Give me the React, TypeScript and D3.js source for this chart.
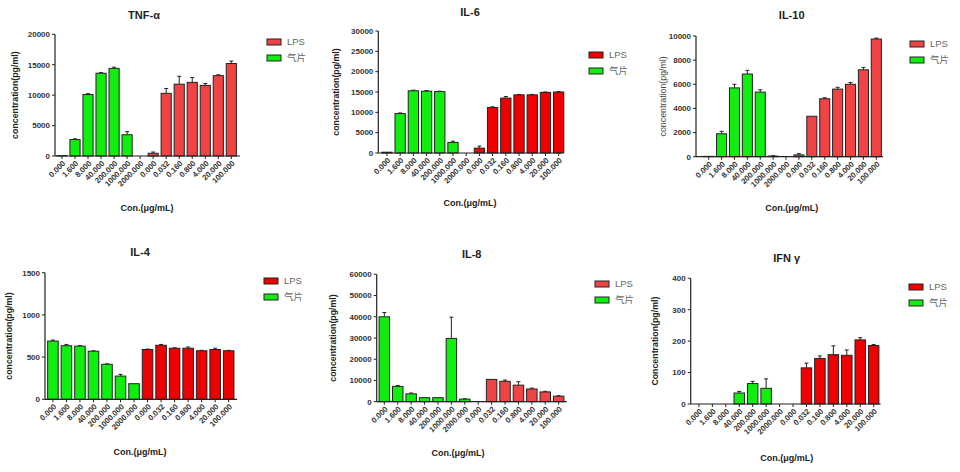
import React from "react";
import * as d3 from "d3";

// ---------- data ----------
const greenCats = ["0.000", "1.600", "8.000", "40.000", "200.000", "1000.000", "2000.000"];
const redCats = ["0.000", "0.032", "0.160", "0.800", "4.000", "20.000", "100.000"];
const seriesNames = ["LPS", "气片"];

const tnfGreen = [60, 2700, 10100, 13600, 14400, 3500, 0];
const tnfGreenErr = [0, 120, 150, 100, 200, 500, 0];
const tnfRed = [450, 10300, 11800, 12100, 11600, 13200, 15200];
const tnfRedErr = [200, 800, 1300, 800, 300, 150, 400];
const tnfTicks = [0, 5000, 10000, 15000, 20000];

const il6Green = [200, 9700, 15300, 15200, 15100, 2600, 0];
const il6GreenErr = [0, 150, 150, 150, 100, 300, 0];
const il6Red = [1200, 11200, 13500, 14300, 14300, 14900, 15000];
const il6RedErr = [500, 150, 400, 100, 100, 100, 100];
const il6Ticks = [0, 5000, 10000, 15000, 20000, 25000, 30000];

const il10Green = [30, 1900, 5700, 6850, 5350, 50, 0];
const il10GreenErr = [0, 200, 300, 300, 200, 30, 0];
const il10Red = [150, 3350, 4800, 5600, 6000, 7200, 9750];
const il10RedErr = [100, 0, 80, 150, 150, 200, 80];
const il10Ticks = [0, 2000, 4000, 6000, 8000, 10000];

const il4Green = [690, 635, 630, 570, 415, 275, 185];
const il4GreenErr = [12, 15, 5, 5, 5, 20, 0];
const il4Red = [590, 640, 605, 605, 575, 590, 575];
const il4RedErr = [5, 10, 5, 15, 5, 15, 5];
const il4Ticks = [0, 500, 1000, 1500];

const il8Green = [40000, 7200, 3700, 1900, 1900, 29800, 1200];
const il8GreenErr = [2000, 400, 400, 0, 0, 10000, 200];
const il8Red = [0, 10500, 9600, 7800, 6000, 4600, 2600];
const il8RedErr = [0, 0, 600, 1600, 400, 300, 200];
const il8Ticks = [0, 10000, 20000, 30000, 40000, 50000, 60000];

const ifnGreen = [0, 0, 0, 35, 65, 50, 0];
const ifnGreenErr = [0, 0, 0, 5, 7, 30, 0];
const ifnRed = [0, 115, 145, 157, 155, 204, 186];
const ifnRedErr = [0, 15, 8, 28, 17, 7, 3];
const ifnTicks = [0, 100, 200, 300, 400];

// ---------- layout ----------
const GREEN = "#10ee10";
const RED_LIGHT = "#f04444";
const RED_PURE = "#ee0000";
const FONT = "Liberation Sans, Arial, sans-serif";

type Panel = {
  title: string;
  yTitle: string;
  yTitleBold: boolean;
  green: number[]; greenErr: number[];
  red: number[]; redErr: number[];
  ticks: number[];
  red_color: string;
  ax: number; axR: number; yTop: number; yBot: number; c0: number; c13: number;
  titleX: number; titleY: number;
  yTitleX: number;
  xTitleX: number; xTitleY: number;
  legX: number; legY: number;
};

const panels: Panel[] = [
  { title: "TNF-α", yTitle: "concentration(pg/ml)", yTitleBold: true,
    green: tnfGreen, greenErr: tnfGreenErr, red: tnfRed, redErr: tnfRedErr, ticks: tnfTicks,
    red_color: RED_LIGHT, ax: 55, axR: 240, yTop: 34.3, yBot: 156, c0: 63.3, c13: 230,
    titleX: 144, titleY: 19, yTitleX: 18, xTitleX: 147, xTitleY: 211, legX: 267, legY: 39 },
  { title: "IL-6", yTitle: "concentration(pg/ml)", yTitleBold: true,
    green: il6Green, greenErr: il6GreenErr, red: il6Red, redErr: il6RedErr, ticks: il6Ticks,
    red_color: RED_PURE, ax: 378.3, axR: 562, yTop: 31, yBot: 153, c0: 388.3, c13: 557.3,
    titleX: 470, titleY: 16, yTitleX: 339, xTitleX: 470, xTitleY: 206, legX: 589, legY: 52 },
  { title: "IL-10", yTitle: "concentration(pg/ml)", yTitleBold: false,
    green: il10Green, greenErr: il10GreenErr, red: il10Red, redErr: il10RedErr, ticks: il10Ticks,
    red_color: RED_LIGHT, ax: 696, axR: 883, yTop: 36, yBot: 156.7, c0: 710, c13: 875,
    titleX: 791.7, titleY: 19, yTitleX: 666, xTitleX: 791.7, xTitleY: 211, legX: 910, legY: 41 },
  { title: "IL-4", yTitle: "concentration(pg/ml)", yTitleBold: true,
    green: il4Green, greenErr: il4GreenErr, red: il4Red, redErr: il4RedErr, ticks: il4Ticks,
    red_color: RED_PURE, ax: 45, axR: 237, yTop: 272.7, yBot: 399.3, c0: 54.3, c13: 227.3,
    titleX: 140, titleY: 256, yTitleX: 12, xTitleX: 140, xTitleY: 455, legX: 264, legY: 278 },
  { title: "IL-8", yTitle: "concentration(pg/ml)", yTitleBold: true,
    green: il8Green, greenErr: il8GreenErr, red: il8Red, redErr: il8RedErr, ticks: il8Ticks,
    red_color: RED_LIGHT, ax: 376.7, axR: 566.7, yTop: 274.3, yBot: 401.7, c0: 385.7, c13: 557.3,
    titleX: 471.7, titleY: 258, yTitleX: 336, xTitleX: 458, xTitleY: 456, legX: 595, legY: 281 },
  { title: "IFN γ", yTitle: "Concentration(pg/ml)", yTitleBold: true,
    green: ifnGreen, greenErr: ifnGreenErr, red: ifnRed, redErr: ifnRedErr, ticks: ifnTicks,
    red_color: RED_PURE, ax: 690.7, axR: 880.7, yTop: 278.3, yBot: 404, c0: 700.3, c13: 872.3,
    titleX: 786.7, titleY: 262, yTitleX: 658, xTitleX: 786.7, xTitleY: 461, legX: 909, legY: 284 },
];

function ChartPanel({ p }: { p: Panel }) {
  const keys = [...greenCats.map((c, i) => "g" + i), ...redCats.map((c, i) => "r" + i)];
  const labels = [...greenCats, ...redCats];
  const step = (p.c13 - p.c0) / 13;
  const x = d3.scaleBand<string>()
    .domain(keys)
    .range([p.c0 - step / 2, p.c13 + step / 2])
    .paddingInner(0.22)
    .paddingOuter(0);
  const y = d3.scaleLinear()
    .domain([0, p.ticks[p.ticks.length - 1]])
    .range([p.yBot, p.yTop]);
  const bw = x.bandwidth();
  const bars = [
    ...p.green.map((v, i) => ({ key: "g" + i, v, e: p.greenErr[i], color: GREEN })),
    ...p.red.map((v, i) => ({ key: "r" + i, v, e: p.redErr[i], color: p.red_color })),
  ];
  const midY = (p.yTop + p.yBot) / 2;
  return (
    <g>
      <text x={p.titleX} y={p.titleY} textAnchor="middle" fontFamily={FONT} fontWeight="bold"
        fontSize={11} fill="#222">{p.title}</text>
      {bars.map((b) => {
        if (!b.e) return null;
        const cx = (x(b.key) as number) + bw / 2;
        return (
          <g key={"e" + b.key} stroke="#222" strokeWidth={1}>
            <line x1={cx} x2={cx} y1={y(b.v)} y2={y(b.v + b.e)} />
            <line x1={cx - 2} x2={cx + 2} y1={y(b.v + b.e)} y2={y(b.v + b.e)} />
          </g>
        );
      })}
      {bars.map((b) => (
        <rect key={b.key} x={x(b.key)} y={y(b.v)} width={bw} height={Math.max(0, p.yBot - y(b.v))}
          fill={b.color} stroke="#222" strokeWidth={1} />
      ))}
      <line x1={p.ax} x2={p.ax} y1={p.yTop} y2={p.yBot} stroke="#222" strokeWidth={1.2} />
      {p.ticks.map((t) => (
        <g key={"yt" + t}>
          <line x1={p.ax - 3} x2={p.ax} y1={y(t)} y2={y(t)} stroke="#222" strokeWidth={1} />
          <text x={p.ax - 5} y={y(t)} dy="0.35em" textAnchor="end" fontFamily={FONT}
            fontSize={8} fontWeight={600} fill="#333">{t}</text>
        </g>
      ))}
      <line x1={p.ax} x2={p.axR} y1={p.yBot} y2={p.yBot} stroke="#222" strokeWidth={1.2} />
      {keys.map((k, i) => {
        const cx = (x(k) as number) + bw / 2;
        return (
          <g key={"xt" + k}>
            <line x1={cx} x2={cx} y1={p.yBot} y2={p.yBot + 3} stroke="#222" strokeWidth={1} />
            <text transform={`translate(${cx + 2},${p.yBot + 6}) rotate(-45)`} textAnchor="end"
              dy="0.35em" fontFamily={FONT} fontSize={7.8} fontWeight={600} fill="#333">{labels[i]}</text>
          </g>
        );
      })}
      <text transform={`translate(${p.yTitleX},${midY}) rotate(-90)`} textAnchor="middle"
        fontFamily={FONT} fontWeight={p.yTitleBold ? "bold" : "normal"} fontSize={8.8}
        fill={p.yTitleBold ? "#222" : "#444"}>{p.yTitle}</text>
      <text x={p.xTitleX} y={p.xTitleY} textAnchor="middle" fontFamily={FONT} fontWeight="bold"
        fontSize={9} fill="#222">Con.(μg/mL)</text>
      {[p.red_color, GREEN].map((c, i) => (
        <g key={"lg" + i}>
          <rect x={p.legX} y={p.legY + i * 16} width={14} height={6} fill={c} stroke="#222" strokeWidth={1} />
          <text x={p.legX + 20} y={p.legY + i * 16 + 3} dy="0.35em" fontSize={9.5}
            fontFamily={i === 1 ? "Noto Sans CJK SC, sans-serif" : FONT} fill="#666">{seriesNames[i]}</text>
        </g>
      ))}
    </g>
  );
}

export default function App() {
  return (
    <svg width={960} height={472} style={{ position: "absolute", left: 0, top: 0, background: "#fff" }}>
      <rect width={960} height={472} fill="#fff" />
      {panels.map((p, i) => (
        <ChartPanel key={i} p={p} />
      ))}
    </svg>
  );
}
